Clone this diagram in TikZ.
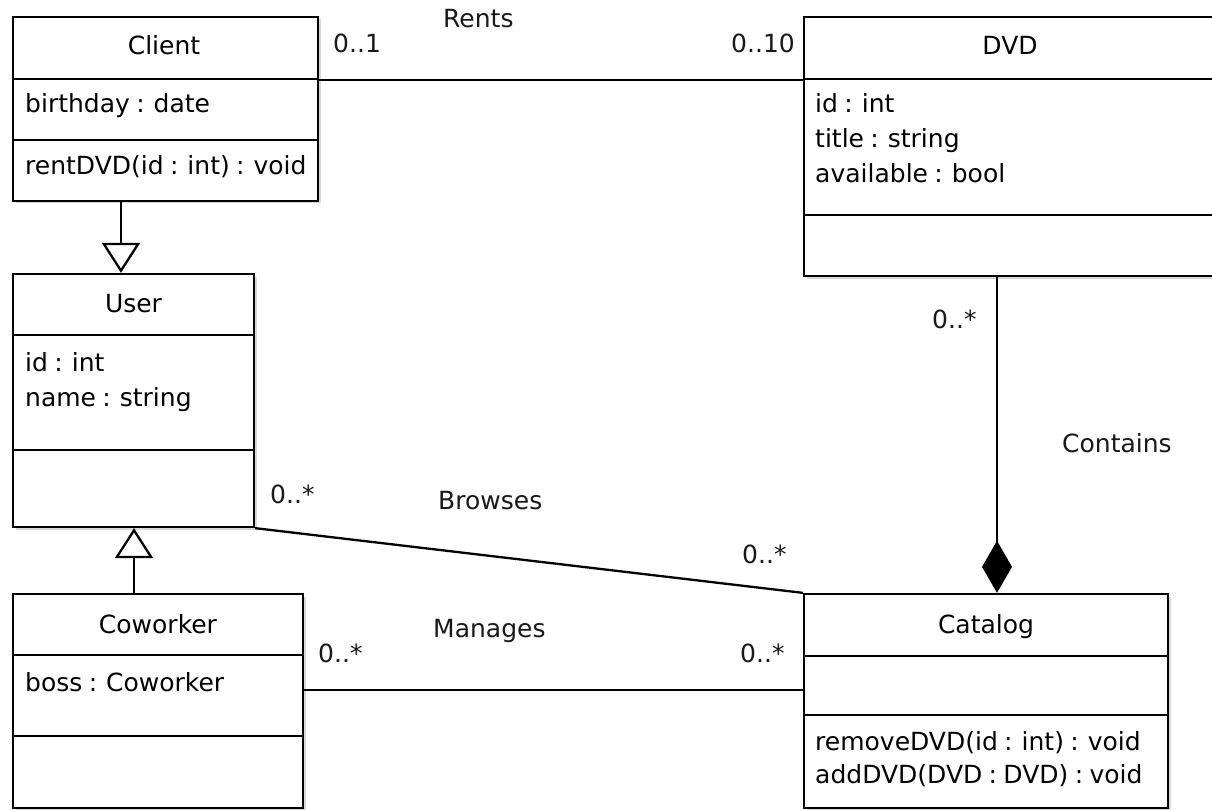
\documentclass[tikz,border=0pt]{standalone}
\usepackage{fontspec}
\setmainfont[WordSpace=0.8]{DejaVu Sans}
\usetikzlibrary{arrows.meta,shadows}
\begin{document}
\begin{tikzpicture}[x=1pt,y=-1pt,
  cls/.style={draw=black, line width=2.3pt, fill=white, rectangle, inner sep=0pt,
    drop shadow={shadow xshift=2.5pt, shadow yshift=-2.5pt, opacity=0.3, fill=black!50}},
  txt/.style={anchor=base west, inner sep=0pt, font=\fontsize{25}{30}\selectfont, text=black},
  ttl/.style={anchor=base, inner sep=0pt, font=\fontsize{25}{30}\selectfont, text=black},
  lbl/.style={anchor=base west, inner sep=0pt, font=\fontsize{25}{30}\selectfont, text=black!90},
  divider/.style={line width=2.3pt},
  conn/.style={line width=2.3pt},
  gen/.style={line width=2.3pt, -{Triangle[open, width=38pt, length=30pt, line width=2.3pt]}},
  comp/.style={line width=2.3pt, -{Diamond[width=30pt, length=52pt]}}
]
\useasboundingbox (0,0) rectangle (1212,810);
\fill[white] (0,0) rectangle (1212,810);
\clip (0,0) rectangle (1212,810);

% class boxes
\node[cls, minimum width=305pt, minimum height=184pt] (client) at (165.5,109) {};
\node[cls, minimum width=241pt, minimum height=253pt] (user) at (133.5,400.5) {};
\node[cls, minimum width=290pt, minimum height=214pt] (coworker) at (158,701) {};
\node[cls, minimum width=421pt, minimum height=259pt] (dvd) at (1014.5,146.5) {};
\node[cls, minimum width=364pt, minimum height=214pt] (catalog) at (986,701) {};

% dividers
\draw[divider] (client.west |- 0,79) -- (client.east |- 0,79);
\draw[divider] (client.west |- 0,140) -- (client.east |- 0,140);
\draw[divider] (user.west |- 0,335) -- (user.east |- 0,335);
\draw[divider] (user.west |- 0,450) -- (user.east |- 0,450);
\draw[divider] (coworker.west |- 0,655) -- (coworker.east |- 0,655);
\draw[divider] (coworker.west |- 0,736) -- (coworker.east |- 0,736);
\draw[divider] (dvd.west |- 0,79) -- (dvd.east |- 0,79);
\draw[divider] (dvd.west |- 0,215) -- (dvd.east |- 0,215);
\draw[divider] (catalog.west |- 0,656) -- (catalog.east |- 0,656);
\draw[divider] (catalog.west |- 0,715) -- (catalog.east |- 0,715);

% class texts
\node[ttl] (clientname) at (164,55) {Client};
\node[txt] (clientattr) at (25,113) {birthday : date};
\node[txt] (clientop) at (25,175) {rentDVD(id : int) : void};

\node[ttl] (username) at (133.5,312) {User};
\node[txt] (userattr1) at (25,371) {id : int};
\node[txt] (userattr2) at (25,406) {name : string};

\node[ttl] (coworkername) at (158,633) {Coworker};
\node[txt] (coworkerattr) at (25,691) {boss : Coworker};

\node[ttl] (dvdname) at (1010,55) {DVD};
\node[txt] (dvdattr1) at (815,113) {id : int};
\node[txt] (dvdattr2) at (815,148) {title : string};
\node[txt] (dvdattr3) at (815,183) {available : bool};

\node[ttl] (catalogname) at (986,633) {Catalog};
\node[txt] (catalogop1) at (815,750) {removeDVD(id : int) : void};
\node[txt] (catalogop2) at (815,783) {addDVD(DVD : DVD) : void};

% connectors
\coordinate (rentsy) at (0,80);
\coordinate (gen1x) at (121,0);
\coordinate (gen2x) at (134,0);
\coordinate (compx) at (997,0);
\coordinate (managesy) at (0,690);

\draw[conn] (client.east |- rentsy) -- (dvd.west |- rentsy);
\draw[gen] (client.south -| gen1x) -- (user.north -| gen1x);
\draw[gen] (coworker.north -| gen2x) -- (user.south -| gen2x);
\draw[comp] (dvd.south -| compx) -- (catalog.north -| compx);
\draw[conn] (user.south east) -- (catalog.north west);
\draw[conn] (coworker.east |- managesy) -- (catalog.west |- managesy);

% association labels
\node[lbl] (rents) at (443,28) {Rents};
\node[lbl] (rentsm1) at (333,53) {0..1};
\node[lbl] (rentsm2) at (731,53) {0..10};
\node[lbl] (containsm) at (932,328) {0..*};
\node[lbl] (contains) at (1062,452) {Contains};
\node[lbl] (browsesm1) at (270,503) {0..*};
\node[lbl] (browses) at (438,509) {Browses};
\node[lbl] (browsesm2) at (742,563) {0..*};
\node[lbl] (manages) at (433,637) {Manages};
\node[lbl] (managesm1) at (318,662) {0..*};
\node[lbl] (managesm2) at (740,662) {0..*};
\end{tikzpicture}
\end{document}
